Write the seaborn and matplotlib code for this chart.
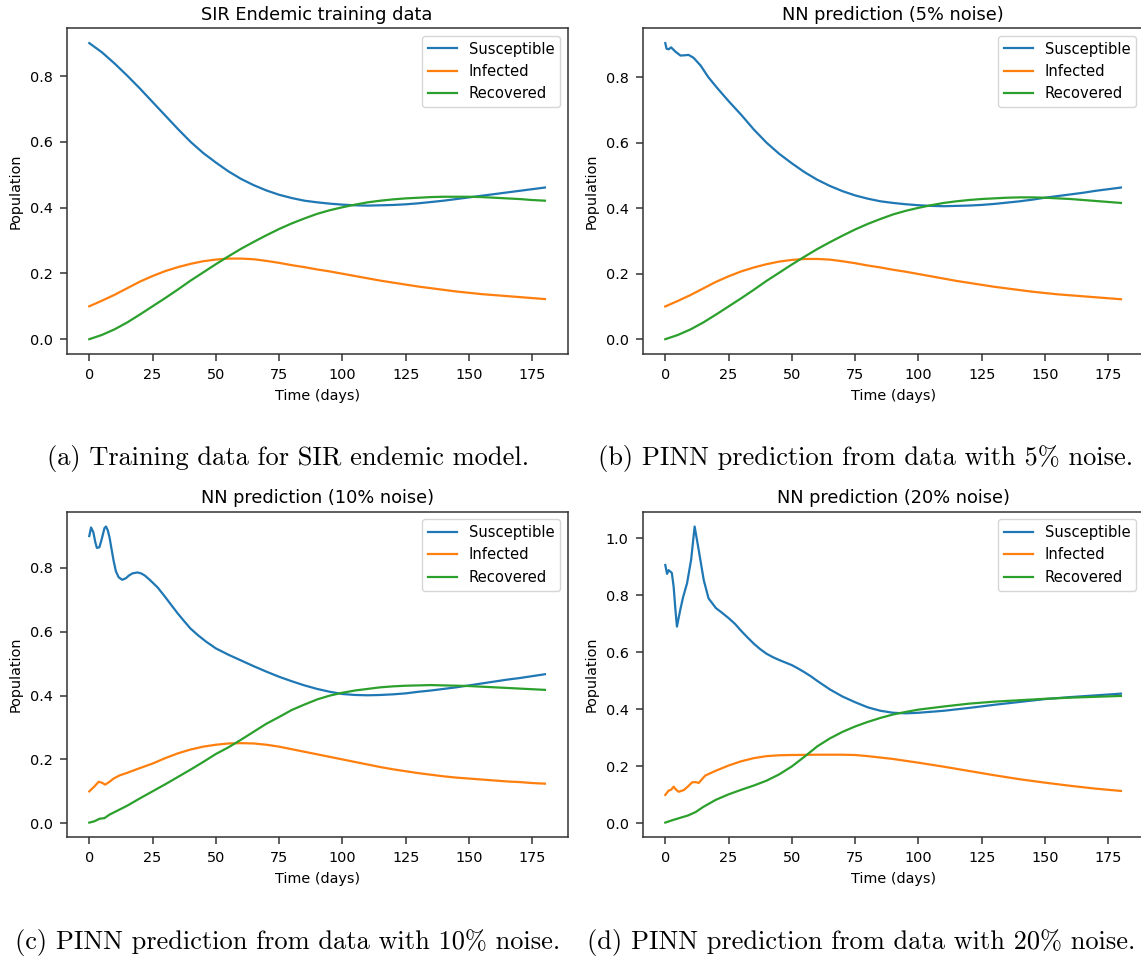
import numpy as np
import pandas as pd
import matplotlib
matplotlib.use("Agg")
import matplotlib.pyplot as plt
import seaborn as sns

# ---------------- data ----------------
# (a) training data
t_a = [0, 5, 10, 15, 20, 25, 30, 35, 40, 45, 50, 55, 60, 65, 70, 75, 80, 85, 90, 95,
       100, 105, 110, 115, 120, 125, 130, 135, 140, 145, 150, 155, 160, 165, 170, 175, 180]
S_a = [0.900, 0.872, 0.838, 0.801, 0.762, 0.721, 0.680, 0.639, 0.600, 0.566, 0.537, 0.510, 0.487,
       0.468, 0.452, 0.439, 0.429, 0.421, 0.416, 0.412, 0.409, 0.407, 0.406, 0.407, 0.408, 0.410,
       0.413, 0.417, 0.421, 0.426, 0.431, 0.436, 0.441, 0.446, 0.451, 0.456, 0.461]
I_a = [0.100, 0.117, 0.135, 0.155, 0.175, 0.192, 0.207, 0.219, 0.229, 0.237, 0.242, 0.245, 0.245,
       0.243, 0.238, 0.232, 0.225, 0.219, 0.212, 0.206, 0.199, 0.192, 0.185, 0.178, 0.172, 0.166,
       0.160, 0.155, 0.150, 0.145, 0.141, 0.137, 0.134, 0.131, 0.128, 0.125, 0.122]
R_a = [0.000, 0.013, 0.030, 0.051, 0.075, 0.100, 0.125, 0.151, 0.178, 0.203, 0.228, 0.252, 0.275,
       0.296, 0.316, 0.335, 0.352, 0.367, 0.381, 0.392, 0.401, 0.409, 0.416, 0.421, 0.425, 0.428,
       0.430, 0.432, 0.433, 0.433, 0.433, 0.432, 0.430, 0.428, 0.426, 0.423, 0.421]

# (b) 5% noise
tS_b = [0, 0.5, 1.3, 2.3, 4, 6, 8, 9.2, 11.2, 14, 17, 20.5, 25, 30, 35, 40, 45, 50, 55, 60, 65, 70,
        75, 80, 85, 90, 95, 100, 105, 110, 115, 120, 125, 130, 135, 140, 145, 150, 155, 160, 165,
        170, 175, 180]
S_b = [0.904, 0.887, 0.885, 0.891, 0.878, 0.866, 0.867, 0.868, 0.859, 0.835, 0.800, 0.767, 0.727,
       0.685, 0.640, 0.600, 0.566, 0.537, 0.510, 0.487, 0.468, 0.452, 0.439, 0.429, 0.421, 0.416,
       0.412, 0.409, 0.407, 0.406, 0.407, 0.408, 0.410, 0.413, 0.417, 0.421, 0.426, 0.432, 0.437,
       0.442, 0.447, 0.453, 0.458, 0.463]
t_b = t_a
I_b = [0.100, 0.117, 0.135, 0.155, 0.175, 0.192, 0.207, 0.219, 0.229, 0.237, 0.242, 0.245, 0.245,
       0.243, 0.238, 0.232, 0.225, 0.219, 0.212, 0.206, 0.199, 0.192, 0.185, 0.178, 0.172, 0.166,
       0.160, 0.155, 0.150, 0.145, 0.141, 0.137, 0.134, 0.131, 0.128, 0.125, 0.122]
R_b = [0.000, 0.013, 0.030, 0.051, 0.075, 0.100, 0.125, 0.151, 0.178, 0.203, 0.228, 0.252, 0.275,
       0.296, 0.316, 0.335, 0.352, 0.367, 0.381, 0.392, 0.401, 0.409, 0.416, 0.421, 0.425, 0.428,
       0.430, 0.432, 0.433, 0.433, 0.432, 0.430, 0.428, 0.425, 0.422, 0.419, 0.416]

# (c) 10% noise
tS_c = [0, 0.7, 1.6, 2.4, 3, 4, 5, 6, 6.6, 7.3, 8, 9, 9.6, 10.5, 11.6, 13, 14.5, 15.6, 17, 19, 20.5,
        22, 24, 27, 30, 32, 35, 37.3, 40, 43, 46, 50, 55, 60, 65, 70, 75, 80, 85, 90, 95, 100, 105,
        110, 115, 120, 125, 130, 135, 140, 145, 150, 155, 160, 165, 170, 175, 180]
S_c = [0.900, 0.927, 0.912, 0.880, 0.863, 0.865, 0.893, 0.925, 0.930, 0.918, 0.896, 0.850, 0.823,
       0.790, 0.771, 0.763, 0.768, 0.776, 0.783, 0.786, 0.783, 0.776, 0.762, 0.739, 0.709, 0.688,
       0.657, 0.635, 0.610, 0.589, 0.570, 0.548, 0.528, 0.510, 0.492, 0.475, 0.459, 0.445, 0.432,
       0.421, 0.412, 0.405, 0.402, 0.401, 0.402, 0.404, 0.407, 0.412, 0.416, 0.421, 0.426, 0.432,
       0.438, 0.444, 0.450, 0.455, 0.461, 0.467]
tI_c = [0, 2, 3.7, 5, 6.3, 8, 9.6, 12, 15, 19, 25, 30, 35, 40, 45, 50, 55, 60, 65, 70, 75, 80, 85,
        90, 95, 100, 105, 110, 115, 120, 125, 130, 135, 140, 145, 150, 155, 160, 165, 170, 175, 180]
I_c = [0.100, 0.115, 0.130, 0.127, 0.121, 0.130, 0.140, 0.150, 0.158, 0.170, 0.187, 0.204, 0.219,
       0.231, 0.240, 0.246, 0.250, 0.251, 0.250, 0.246, 0.240, 0.232, 0.224, 0.216, 0.208, 0.200,
       0.192, 0.184, 0.176, 0.169, 0.163, 0.157, 0.152, 0.147, 0.143, 0.140, 0.137, 0.134, 0.131,
       0.129, 0.126, 0.124]
tR_c = [0, 2, 4, 6, 8, 10, 15, 20, 25, 30, 35, 40, 45, 50, 55, 60, 65, 70, 75, 80, 85, 90, 95, 100,
        105, 110, 115, 120, 125, 130, 135, 140, 145, 150, 155, 160, 165, 170, 175, 180]
R_c = [0.002, 0.006, 0.014, 0.016, 0.027, 0.035, 0.055, 0.078, 0.100, 0.122, 0.145, 0.168, 0.192,
       0.217, 0.238, 0.262, 0.287, 0.312, 0.333, 0.355, 0.372, 0.388, 0.400, 0.409, 0.416, 0.421,
       0.426, 0.429, 0.431, 0.432, 0.433, 0.432, 0.431, 0.430, 0.428, 0.426, 0.424, 0.422, 0.420,
       0.418]

# (d) 20% noise
tS_d = [0, 0.7, 1.3, 2.0, 2.6, 3.3, 4.0, 4.6, 5.9, 7.0, 8.6, 10.2, 11.6, 13.2, 15.2, 17.1, 20, 22.5,
        25, 27.5, 30, 32.5, 35, 37.5, 40, 42.5, 45, 47.5, 50, 52.5, 55, 57.5, 60, 65, 70, 75, 80,
        85, 90, 95, 100, 110, 120, 130, 140, 150, 160, 170, 180]
S_d = [0.906, 0.875, 0.888, 0.883, 0.878, 0.830, 0.750, 0.690, 0.748, 0.792, 0.842, 0.924, 1.041,
       0.959, 0.853, 0.789, 0.755, 0.738, 0.720, 0.700, 0.675, 0.652, 0.630, 0.611, 0.595, 0.583,
       0.573, 0.564, 0.555, 0.543, 0.530, 0.516, 0.500, 0.470, 0.445, 0.425, 0.407, 0.395, 0.388,
       0.386, 0.388, 0.395, 0.405, 0.416, 0.426, 0.436, 0.443, 0.449, 0.455]
tI_d = [0, 1.3, 2.3, 3.3, 4.3, 5.3, 7.3, 9, 10.6, 12, 13.2, 14.5, 15.8, 20, 25, 30, 35, 40, 45, 50,
        60, 70, 75, 80, 90, 100, 110, 120, 130, 140, 150, 160, 170, 180]
I_d = [0.100, 0.115, 0.118, 0.129, 0.118, 0.111, 0.117, 0.130, 0.144, 0.145, 0.142, 0.155, 0.168,
       0.185, 0.203, 0.218, 0.229, 0.236, 0.239, 0.240, 0.241, 0.241, 0.240, 0.236, 0.226, 0.213,
       0.199, 0.184, 0.169, 0.155, 0.143, 0.132, 0.122, 0.114]
tR_d = [0, 3, 6, 9, 12, 15, 20, 25, 30, 35, 40, 45, 50, 55, 60, 65, 70, 75, 80, 85, 90, 95, 100,
        110, 120, 130, 140, 150, 160, 170, 180]
R_d = [0.003, 0.012, 0.020, 0.028, 0.040, 0.058, 0.083, 0.102, 0.118, 0.133, 0.150, 0.172, 0.200,
       0.234, 0.270, 0.298, 0.321, 0.340, 0.356, 0.370, 0.382, 0.391, 0.399, 0.410, 0.420, 0.427,
       0.432, 0.437, 0.441, 0.444, 0.447]

labels = ["Susceptible", "Infected", "Recovered"]
titles = ["SIR Endemic training data", "NN prediction (5% noise)",
          "NN prediction (10% noise)", "NN prediction (20% noise)"]
captions = ["(a) Training data for SIR endemic model.",
            "(b) PINN prediction from data with 5% noise.",
            "(c) PINN prediction from data with 10% noise.",
            "(d) PINN prediction from data with 20% noise."]

panels = [
    [(t_a, S_a), (t_a, I_a), (t_a, R_a)],
    [(tS_b, S_b), (t_b, I_b), (t_b, R_b)],
    [(tS_c, S_c), (tI_c, I_c), (tR_c, R_c)],
    [(tS_d, S_d), (tI_d, I_d), (tR_d, R_d)],
]

# ---------------- figure ----------------
W, H = 1141, 959
fig = plt.figure(figsize=(W / 100, H / 100), dpi=100)

colors = ["#1f77b4", "#ff7f0e", "#2ca02c"]
ax_w, ax_h = 501.2, 325.7
lefts = [66.5, 642.5, 66.5, 642.5]
tops = [28.3, 28.3, 511.7, 511.7]

for k in range(4):
    l, tp = lefts[k], tops[k]
    ax = fig.add_axes([l / W, (H - tp - ax_h) / H, ax_w / W, ax_h / H])
    for j, (tt, vv) in enumerate(panels[k]):
        df = pd.DataFrame({"t": tt, "v": vv})
        sns.lineplot(data=df, x="t", y="v", ax=ax, color=colors[j], lw=1.6,
                     label=labels[j], estimator=None, sort=False)
    ax.set_title(titles[k], fontsize=12.8, pad=6.2)
    ax.set_xlabel("Time (days)", fontsize=10.4, labelpad=5)
    ax.set_ylabel("Population", fontsize=10.4, labelpad=5)
    ax.set_xticks([0, 25, 50, 75, 100, 125, 150, 175])
    ax.tick_params(labelsize=10.4, length=5, width=1.1, color="#333333", pad=5)
    for s in ax.spines.values():
        s.set_linewidth(1.1)
        s.set_color("#333333")
    ax.legend(loc="upper right", fontsize=10.6, framealpha=0.8, edgecolor="#cccccc")

cap_x = [288, 866, 288, 861]
cap_y = [458, 458, 943, 943]
for k in range(4):
    fig.text(cap_x[k] / W, 1 - cap_y[k] / H, captions[k], ha="center", va="center",
             fontsize=19, family="cmr10")

fig.savefig("out.png", dpi=100)
